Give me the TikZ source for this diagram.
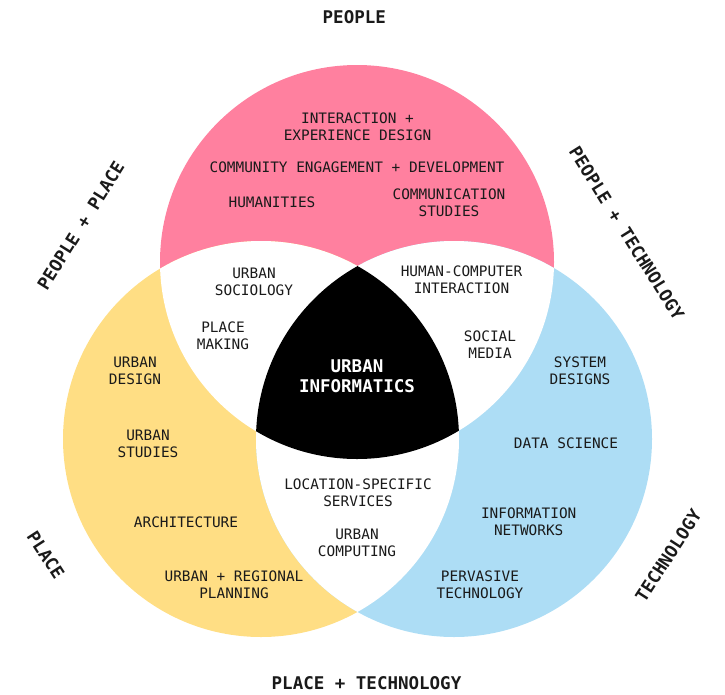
\documentclass[tikz,border=0pt]{standalone}
\usepackage{fontspec}
\setmonofont{DejaVu Sans Mono}
\definecolor{pinkc}{HTML}{FF809F}
\definecolor{yellowc}{HTML}{FFDE84}
\definecolor{bluec}{HTML}{ADDDF5}
\definecolor{txt}{HTML}{1A1A1A}
\tikzset{
  lbl/.style={font=\ttfamily\fontsize{14.4}{17}\selectfont, align=center, text=txt, inner sep=0pt},
  big/.style={font=\ttfamily\bfseries\fontsize{17.5}{20.7}\selectfont, align=center, text=txt, inner sep=0pt},
  core/.style={big, text=white},
}
\begin{document}
\begin{tikzpicture}[x=1pt,y=-1pt]
\useasboundingbox (0,0) rectangle (725,694);
\coordinate (T) at (357,262);
\coordinate (L) at (261,439);
\coordinate (R) at (454,439);
\fill[pinkc] (T) circle[radius=197pt];
\fill[yellowc] (L) circle[radius=198pt];
\fill[bluec] (R) circle[radius=198pt];
\begin{scope}
  \clip (T) circle[radius=197pt];
  \fill[white] (L) circle[radius=198pt];
  \fill[white] (R) circle[radius=198pt];
\end{scope}
\begin{scope}
  \clip (L) circle[radius=198pt];
  \fill[white] (R) circle[radius=198pt];
\end{scope}
\begin{scope}
  \clip (T) circle[radius=197pt];
  \clip (L) circle[radius=198pt];
  \fill[black] (R) circle[radius=198pt];
\end{scope}

% outer labels
\node[big] (people) at (354.3,17) {PEOPLE};
\node[big, rotate=58] (pp) at (80.8,225.8) {PEOPLE + PLACE};
\node[big, rotate=-58] (pt) at (626.7,233.3) {PEOPLE + TECHNOLOGY};
\node[big, rotate=-57] (place) at (45.8,555) {PLACE};
\node[big, rotate=57] (tech) at (668.3,555.8) {TECHNOLOGY};
\node[big] (plt) at (366.5,682.7) {PLACE + TECHNOLOGY};

% people
\node[lbl] (ixd) at (357.5,126.5) {INTERACTION +\\EXPERIENCE DESIGN};
\node[lbl] (ced) at (357,167) {COMMUNITY ENGAGEMENT + DEVELOPMENT};
\node[lbl] (hum) at (272,202) {HUMANITIES};
\node[lbl] (com) at (449,202.5) {COMMUNICATION\\STUDIES};

% people + place
\node[lbl] (soc) at (254,281.5) {URBAN\\SOCIOLOGY};
\node[lbl] (pm) at (223,335.5) {PLACE\\MAKING};

% people + technology
\node[lbl] (hci) at (461.5,279.5) {HUMAN-COMPUTER\\INTERACTION};
\node[lbl] (sm) at (490,344.5) {SOCIAL\\MEDIA};

% core
\node[core] (ui) at (357,376.3) {URBAN\\INFORMATICS};

% place
\node[lbl] (ud) at (135,370.5) {URBAN\\DESIGN};
\node[lbl] (us) at (148,443.5) {URBAN\\STUDIES};
\node[lbl] (arch) at (186,522) {ARCHITECTURE};
\node[lbl] (urp) at (234,584.5) {URBAN + REGIONAL\\PLANNING};

% place + technology
\node[lbl] (lss) at (358,492.5) {LOCATION-SPECIFIC\\SERVICES};
\node[lbl] (uc) at (357,542.7) {URBAN\\COMPUTING};

% technology
\node[lbl] (sd) at (580,370.5) {SYSTEM\\DESIGNS};
\node[lbl] (ds) at (566,443) {DATA SCIENCE};
\node[lbl] (inet) at (528.7,521.5) {INFORMATION\\NETWORKS};
\node[lbl] (pvt) at (480,584.5) {PERVASIVE\\TECHNOLOGY};
\end{tikzpicture}
\end{document}
